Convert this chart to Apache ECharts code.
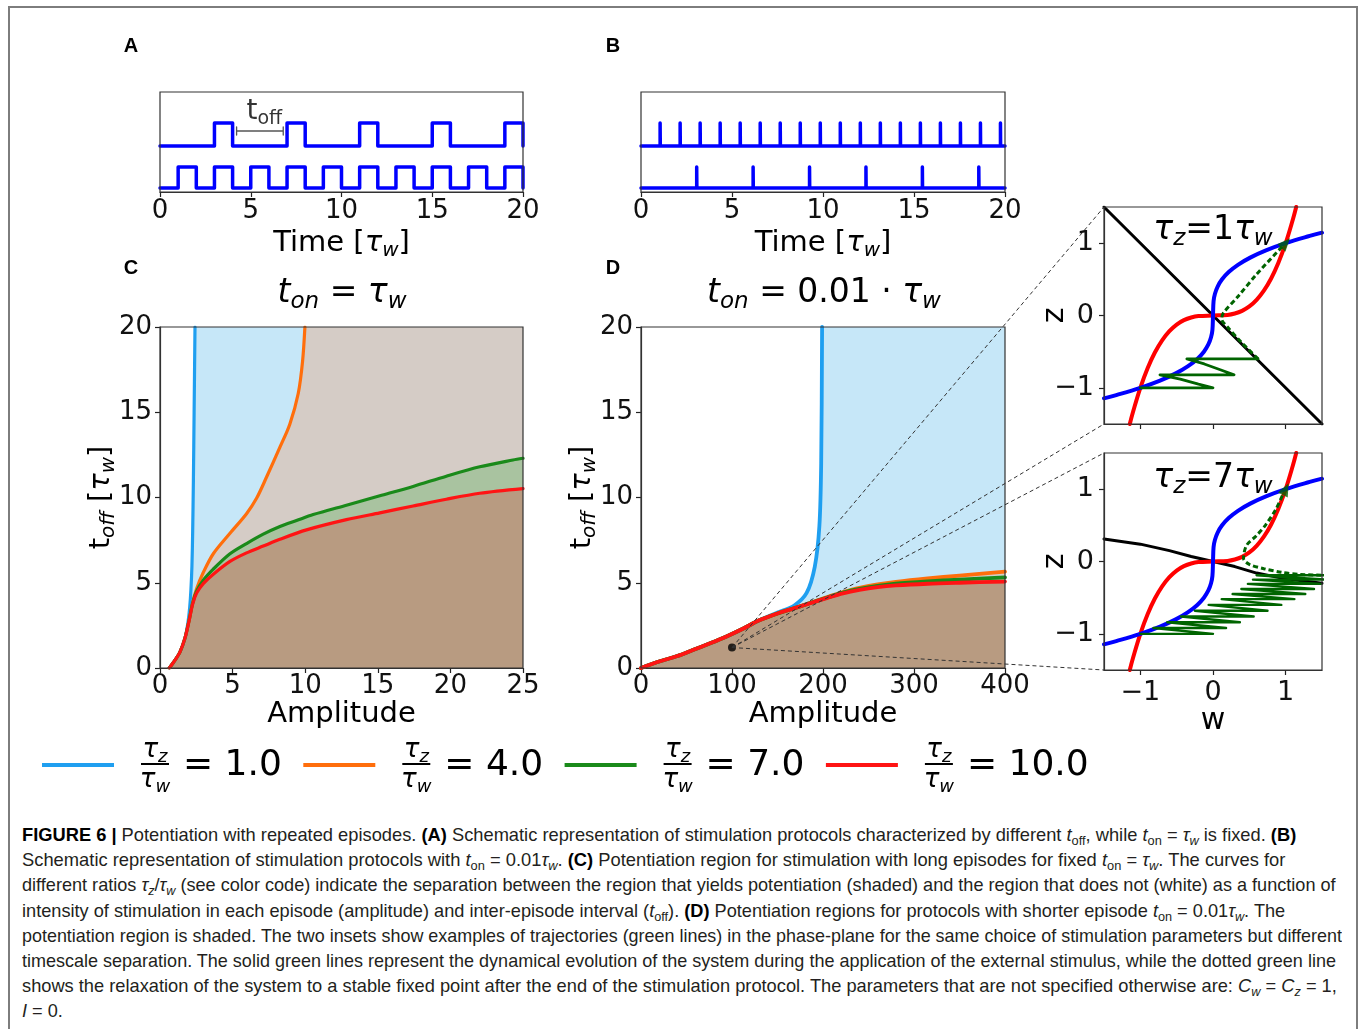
<!DOCTYPE html>
<html>
<head>
<meta charset="utf-8">
<script src="https://cdn.jsdelivr.net/npm/echarts@6/dist/echarts.min.js"></script>
<style>
  html, body { margin: 0; padding: 0; background: #fff; }
  body { width: 1360px; height: 1029px; position: relative; overflow: hidden; }
  #frame { position: absolute; left: 8px; top: 6px; width: 1346px; height: 1100px; border: 2px solid #7d7d7d; border-bottom: none; }
  #main { position: absolute; left: 0; top: 0; width: 1360px; height: 815px; }
  #caption { position: absolute; left: 22px; top: 822px; font-family: 'Liberation Sans Narrow', 'Liberation Sans', Arial, sans-serif; font-size: 18.5px; color: #231f20; }
  #caption .ln { height: 25.2px; line-height: 25.2px; white-space: nowrap; }
  #caption .ln span { display: inline-block; transform-origin: 0 50%; }
  #caption sub { font-size: 0.7em; vertical-align: -0.3em; line-height: 0; }
  #caption b { color: #000; }
</style>
</head>
<body>
<div id="frame"></div>
<div id="main"></div>
<div id="caption">
  <div class="ln"><span><b>FIGURE 6 |</b> Potentiation with repeated episodes. <b>(A)</b> Schematic representation of stimulation protocols characterized by different <i>t</i><sub>off</sub>, while <i>t</i><sub>on</sub> = <i>τ<sub>w</sub></i> is fixed. <b>(B)</b></span></div>
  <div class="ln"><span>Schematic representation of stimulation protocols with <i>t</i><sub>on</sub> = 0.01<i>τ<sub>w</sub></i>. <b>(C)</b> Potentiation region for stimulation with long episodes for fixed <i>t</i><sub>on</sub> = <i>τ<sub>w</sub></i>. The curves for</span></div>
  <div class="ln"><span>different ratios <i>τ<sub>z</sub></i>/<i>τ<sub>w</sub></i> (see color code) indicate the separation between the region that yields potentiation (shaded) and the region that does not (white) as a function of</span></div>
  <div class="ln"><span>intensity of stimulation in each episode (amplitude) and inter-episode interval (<i>t</i><sub>off</sub>). <b>(D)</b> Potentiation regions for protocols with shorter episode <i>t</i><sub>on</sub> = 0.01<i>τ<sub>w</sub></i>. The</span></div>
  <div class="ln"><span>potentiation region is shaded. The two insets show examples of trajectories (green lines) in the phase-plane for the same choice of stimulation parameters but different</span></div>
  <div class="ln"><span>timescale separation. The solid green lines represent the dynamical evolution of the system during the application of the external stimulus, while the dotted green line</span></div>
  <div class="ln"><span>shows the relaxation of the system to a stable fixed point after the end of the stimulation protocol. The parameters that are not specified otherwise are: <i>C<sub>w</sub></i> = <i>C<sub>z</sub></i> = 1,</span></div>
  <div class="ln"><span><i>I</i> = 0.</span></div>
</div>

<script>
// ---- panel A / B : stimulation protocols ----
const pulsesATop = [3, 7, 11, 15, 19];
const pulsesABottom = [1, 3, 5, 7, 9, 11, 13, 15, 17, 19];
const tOnA = 1;
const pulsesBTop = [1.05, 2.15, 3.25, 4.35, 5.45, 6.55, 7.65, 8.75, 9.85, 10.95, 12.05, 13.15, 14.25, 15.35, 16.45, 17.55, 18.65, 19.75];
const pulsesBBottom = [3.06, 6.16, 9.26, 12.36, 15.46, 18.56];
const tOnB = 0.01;
const levelTop = [0.46, 0.69];
const levelBottom = [0.04, 0.25];
const toffBracket = [4.22, 6.79, 0.61];
const toffLabelAt = [5.75, 0.8];

// ---- panel C : t_on = tau_w ----
const cBlue = [[0.64, 0], [1.0, 0.42], [1.38, 0.95], [1.72, 1.75], [1.93, 2.7], [2.05, 3.6], [2.13, 4.6], [2.2, 6.0], [2.25, 8.0], [2.3, 11], [2.35, 15], [2.41, 20]];
const cOrange = [[0.64, 0], [1.0, 0.42], [1.38, 0.95], [1.72, 1.75], [2.0, 2.8], [2.25, 3.85], [2.52, 4.65], [2.98, 5.6], [3.67, 6.7], [4.82, 7.9], [5.96, 9.05], [6.65, 9.95], [7.34, 11.2], [8.26, 12.95], [8.94, 14.3], [9.52, 16.1], [9.82, 18.0], [9.98, 20]];
const cGreen = [[0.64, 0], [1.0, 0.42], [1.38, 0.95], [1.72, 1.75], [2.0, 2.78], [2.25, 3.8], [2.52, 4.5], [2.98, 5.15], [3.67, 5.8], [4.82, 6.7], [5.96, 7.3], [7.11, 7.85], [8.26, 8.3], [9.4, 8.65], [10.55, 9.0], [12.84, 9.55], [15.14, 10.1], [17.43, 10.65], [19.72, 11.25], [22.02, 11.8], [24.31, 12.2], [25, 12.3]];
const cRed = [[0.64, 0], [1.0, 0.42], [1.38, 0.95], [1.72, 1.75], [2.0, 2.75], [2.25, 3.75], [2.52, 4.4], [2.98, 4.95], [3.67, 5.5], [4.82, 6.25], [5.96, 6.75], [7.11, 7.15], [8.26, 7.55], [10.09, 8.1], [12.84, 8.7], [15.14, 9.1], [17.43, 9.5], [19.72, 9.9], [22.02, 10.25], [25, 10.52]];

// ---- panel D : t_on = 0.01 tau_w ----
const dBlue = [[0, 0], [20, 0.38], [40, 0.7], [57, 1.05], [76, 1.45], [94, 1.85], [112, 2.3], [130, 2.8], [150, 3.25], [168, 3.65], [182, 4.4], [191, 5.95], [196, 8.3], [198, 12], [199, 20]];
const dOrange = [[0, 0], [20, 0.38], [40, 0.7], [57, 1.05], [76, 1.45], [94, 1.85], [112, 2.3], [130, 2.8], [150, 3.2], [168, 3.5], [186, 3.82], [204, 4.15], [222, 4.45], [240, 4.7], [260, 4.9], [280, 5.05], [315, 5.25], [350, 5.42], [400, 5.65]];
const dGreen = [[0, 0], [20, 0.38], [40, 0.7], [57, 1.05], [76, 1.45], [94, 1.85], [112, 2.3], [130, 2.8], [150, 3.2], [168, 3.5], [186, 3.81], [204, 4.12], [222, 4.42], [240, 4.64], [260, 4.82], [280, 4.95], [315, 5.08], [350, 5.18], [400, 5.32]];
const dRed = [[0, 0], [20, 0.38], [40, 0.7], [57, 1.05], [76, 1.45], [94, 1.85], [112, 2.3], [130, 2.8], [150, 3.2], [168, 3.5], [186, 3.8], [204, 4.1], [222, 4.38], [240, 4.58], [260, 4.74], [280, 4.84], [315, 4.94], [350, 5.0], [400, 5.07]];
const dDot = [100, 1.2];

// ---- insets : phase plane (w, z) ----
const zNullcline = [[-1.145, -1.5], [-1.1, -1.331], [-1.0, -1.0], [-0.9, -0.729], [-0.8, -0.512], [-0.7, -0.343], [-0.6, -0.216], [-0.5, -0.125], [-0.4, -0.064], [-0.3, -0.027], [-0.2, -0.008], [0, 0], [0.2, 0.008], [0.3, 0.027], [0.4, 0.064], [0.5, 0.125], [0.6, 0.216], [0.7, 0.343], [0.8, 0.512], [0.9, 0.729], [1.0, 1.0], [1.1, 1.331], [1.145, 1.5]];
const wNullcline = [[-1.5, -1.145], [-1.331, -1.1], [-1.0, -1.0], [-0.729, -0.9], [-0.512, -0.8], [-0.343, -0.7], [-0.216, -0.6], [-0.125, -0.5], [-0.064, -0.4], [-0.027, -0.3], [-0.008, -0.2], [0, 0], [0.008, 0.2], [0.027, 0.3], [0.064, 0.4], [0.125, 0.5], [0.216, 0.6], [0.343, 0.7], [0.512, 0.8], [0.729, 0.9], [1.0, 1.0], [1.331, 1.1], [1.5, 1.145]];
const black1 = [[-1.5, 1.5], [1.5, -1.5]];
const black7 = [[-1.5, 0.31], [-1.0, 0.24], [-0.6, 0.15], [-0.3, 0.07], [0, 0], [0.3, -0.07], [0.6, -0.16], [1.0, -0.24], [1.5, -0.3]];
const traj1 = [[-1.0, -1.0], [0.0, -1.0], [-0.2, -0.95], [-0.45, -0.88], [-0.73, -0.82], [0.29, -0.82], [0.1, -0.75], [-0.12, -0.67], [-0.36, -0.6], [0.62, -0.6]];
const relax1 = [[0.62, -0.6], [0.4, -0.38], [0.2, -0.16], [0.12, -0.05], [0.14, 0.03], [0.35, 0.27], [0.6, 0.57], [0.95, 0.95]];
const traj7 = [[-1.0, -1.0], [0.0, -1.0], [-0.82, -0.92], [0.18, -0.92], [-0.63, -0.84], [0.37, -0.84], [-0.44, -0.76], [0.56, -0.76], [-0.25, -0.68], [0.75, -0.68], [-0.06, -0.6], [0.94, -0.6], [0.12, -0.52], [1.12, -0.52], [0.27, -0.45], [1.27, -0.45], [0.39, -0.38], [1.39, -0.38], [0.48, -0.31], [1.48, -0.31], [0.55, -0.25], [1.55, -0.25], [0.6, -0.19], [1.6, -0.19]];
const relax7 = [[1.6, -0.19], [1.2, -0.18], [0.95, -0.15], [0.7, -0.1], [0.5, -0.04], [0.42, 0.04], [0.46, 0.22], [0.6, 0.36], [0.72, 0.5], [0.87, 0.73], [0.97, 0.95]];
const fixedPoint = [1, 1];

// ---- legend ----
const ratioLabels = ['1.0', '4.0', '7.0', '10.0'];
const ratioColors = ['#1f9ff0', '#ff6e0c', '#1a8a1a', '#ff1414'];
const fillColors = ['#c6e7f8', '#d5ccc6', '#a9c3a0', '#b89b81'];

const FONT = 'DejaVu Sans';

const mathRich = (size) => ({
  n: { fontFamily: FONT, fontSize: size, lineHeight: Math.round(size * 1.25), color: '#000' },
  i: { fontFamily: FONT, fontSize: size, fontStyle: 'italic', lineHeight: Math.round(size * 1.25), color: '#000' },
  s: { fontFamily: FONT, fontSize: Math.round(size * 0.7), fontStyle: 'italic', lineHeight: Math.round(size * 0.8), verticalAlign: 'bottom', color: '#000' },
  u: { fontFamily: FONT, fontSize: Math.round(size * 0.7), lineHeight: Math.round(size * 0.8), verticalAlign: 'bottom', color: '#000' }
});

const wave = (starts, on, level) => {
  const pts = [[0, level[0]]];
  starts.forEach((s) => {
    const e = Math.min(s + on, 20);
    pts.push([s, level[0]], [s, level[1]], [e, level[1]], [e, level[0]]);
  });
  pts.push([20, level[0]]);
  return pts;
};

const minus = (v) => (v < 0 ? '\u2212' + Math.abs(v) : String(v));

const grids = [
  { left: 160, top: 92, width: 363, height: 100 },
  { left: 641, top: 92, width: 364, height: 100 },
  { left: 160, top: 327, width: 363, height: 341 },
  { left: 641, top: 327, width: 364, height: 341 },
  { left: 1104, top: 207, width: 218, height: 217 },
  { left: 1104, top: 453, width: 218, height: 217 }
].map((g) => Object.assign(g, { show: true, borderColor: '#333', borderWidth: 1.2, backgroundColor: 'transparent', z: 5 }));

const tick = { show: true, inside: false, length: 5, lineStyle: { color: '#222', width: 1.2 } };
const label = (size, margin) => ({ fontFamily: FONT, fontSize: size, color: '#111', margin: margin });
const axisLine = { show: true, onZero: false, lineStyle: { color: '#333', width: 1.2 } };

const timeAxis = (g) => ({
  type: 'value', gridIndex: g, min: 0, max: 20, interval: 5,
  axisLine, axisTick: tick, axisLabel: label(26, 6), splitLine: { show: false },
  name: '{n|Time [}{i|τ}{s|w}{n|]}', nameLocation: 'middle', nameGap: 33, nameMoveOverlap: false,
  nameTextStyle: { fontFamily: FONT, fontSize: 29, rich: mathRich(29) }
});
const hiddenY = (g) => ({ type: 'value', gridIndex: g, min: 0, max: 1, show: false });
const toffAxis = (g) => ({
  type: 'value', gridIndex: g, min: 0, max: 20, interval: 5,
  axisLine, axisTick: tick, axisLabel: label(26, 8), splitLine: { show: false },
  name: '{n|t}{s|off}{n| [}{i|τ}{s|w}{n|]}', nameLocation: 'middle', nameGap: 41, nameRotate: 90, nameMoveOverlap: false,
  nameTextStyle: { fontFamily: FONT, fontSize: 29, rich: mathRich(29) }
});
const ampAxis = (g, max, step) => ({
  type: 'value', gridIndex: g, min: 0, max: max, interval: step,
  axisLine, axisTick: tick, axisLabel: label(26, 5), splitLine: { show: false },
  name: 'Amplitude', nameLocation: 'middle', nameGap: 32, nameMoveOverlap: false,
  nameTextStyle: { fontFamily: FONT, fontSize: 29, color: '#000' }
});
const phaseX = (g, showLabels) => ({
  type: 'value', gridIndex: g, min: -1.5, max: 1.5,
  axisLine, axisTick: Object.assign({ customValues: [-1, 0, 1] }, tick),
  axisLabel: Object.assign({ show: showLabels, customValues: [-1, 0, 1], formatter: minus }, label(27, 9)),
  splitLine: { show: false },
  name: showLabels ? 'w' : '', nameLocation: 'middle', nameGap: 36, nameMoveOverlap: false,
  nameTextStyle: { fontFamily: FONT, fontSize: 30, color: '#000' }
});
const phaseY = (g) => ({
  type: 'value', gridIndex: g, min: -1.5, max: 1.5,
  axisLine, axisTick: Object.assign({ customValues: [-1, 0, 1] }, tick),
  axisLabel: Object.assign({ customValues: [-1, 0, 1], formatter: minus }, label(27, 10)),
  splitLine: { show: false },
  name: 'z', nameLocation: 'middle', nameGap: 34, nameRotate: 90, nameMoveOverlap: false,
  nameTextStyle: { fontFamily: FONT, fontSize: 30, color: '#000' }
});

const line = (g, data, color, width, extra) => Object.assign({
  type: 'line', xAxisIndex: g, yAxisIndex: g, data: data,
  symbol: 'none', showSymbol: false, silent: true, z: 3,
  lineStyle: { color: color, width: width, cap: 'round', join: 'round' }
}, extra || {});

const fill = (g, data, color) => ({
  type: 'line', xAxisIndex: g, yAxisIndex: g, data: data,
  symbol: 'none', showSymbol: false, silent: true, z: 1, smooth: 0.3,
  lineStyle: { width: 0, opacity: 0 }, areaStyle: { color: color, opacity: 1 }
});

const cCurves = [cBlue, cOrange, cGreen, cRed];
const dCurves = [dBlue, dOrange, dGreen, dRed];
const series = [];

// A
series.push(line(0, wave(pulsesATop, tOnA, levelTop), '#0000ff', 3.5));
series.push(line(0, wave(pulsesABottom, tOnA, levelBottom), '#0000ff', 3.5));
const [bx1, bx2, by] = toffBracket;
series.push(line(0, [[bx1, by - 0.04], [bx1, by + 0.04], [bx1, by], [bx2, by], [bx2, by + 0.04], [bx2, by - 0.04]], '#555', 1.3));
series.push({
  type: 'scatter', xAxisIndex: 0, yAxisIndex: 0, data: [toffLabelAt], symbolSize: 2, silent: true, z: 6,
  itemStyle: { color: 'rgba(0,0,0,0)' },
  label: { show: true, position: 'inside', color: '#000', formatter: '{t|t}{o|off}',
    rich: { t: { fontFamily: FONT, fontSize: 28, lineHeight: 34, color: '#000' },
            o: { fontFamily: FONT, fontSize: 19, lineHeight: 19, verticalAlign: 'bottom', color: '#000' } } }
});
// B
series.push(line(1, wave(pulsesBTop, tOnB, levelTop), '#0000ff', 3.5));
series.push(line(1, wave(pulsesBBottom, tOnB, levelBottom), '#0000ff', 3.5));

// C and D fills then curves
[[2, cCurves, 25], [3, dCurves, 400]].forEach(([g, curves, xmax]) => {
  curves.forEach((c, k) => {
    const last = c[c.length - 1];
    const data = last[1] >= 20 ? c.concat([[xmax, 20]]) : c;
    series.push(fill(g, data, fillColors[k]));
  });
  curves.forEach((c, k) => {
    series.push(line(g, c, ratioColors[k], g === 2 ? 3.2 : 3.8, { smooth: 0.3 }));
  });
});
series.push({ type: 'scatter', xAxisIndex: 3, yAxisIndex: 3, data: [dDot], symbolSize: 8, itemStyle: { color: '#000' }, z: 6, silent: true });

// insets
[[4, black1, traj1, relax1, -42], [5, black7, traj7, relax7, -26]].forEach(([g, blk, traj, relax, rot]) => {
  series.push(line(g, blk, '#000', 3));
  series.push(line(g, zNullcline, '#ff0000', 4, { smooth: 0.4 }));
  series.push(line(g, wNullcline, '#0000ff', 4, { smooth: 0.4 }));
  series.push(line(g, traj, '#006400', g === 4 ? 2.8 : 2.4));
  series.push(line(g, relax, '#006400', 3, { smooth: 0.3, lineStyle: { color: '#006400', width: 3, type: [5, 3] } }));
  series.push({ type: 'scatter', xAxisIndex: g, yAxisIndex: g, data: [fixedPoint], symbol: 'triangle', symbolSize: [11, 13], symbolRotate: rot, itemStyle: { color: '#006400' }, z: 4, silent: true });
});

const chart = echarts.init(document.getElementById('main'));
chart.setOption({
  animation: false,
  textStyle: { fontFamily: FONT },
  grid: grids,
  xAxis: [timeAxis(0), timeAxis(1), ampAxis(2, 25, 5), ampAxis(3, 400, 100), phaseX(4, false), phaseX(5, true)],
  yAxis: [hiddenY(0), hiddenY(1), toffAxis(2), toffAxis(3), phaseY(4), phaseY(5)],
  series: series
});

// overlay texts, legend and zoom connectors
const elements = [];
[['A', 131, 46], ['B', 613, 46], ['C', 131, 268], ['D', 613, 268]].forEach(([t, x, y]) => {
  elements.push({ type: 'text', style: { text: t, x, y, fontFamily: 'Liberation Sans, Arial', fontWeight: 'bold', fontSize: 20, fill: '#000', align: 'center', verticalAlign: 'middle' } });
});
[['{i|t}{s|on}{n| = }{i|τ}{s|w}', 342, 293],
 ['{i|t}{s|on}{n| = 0.01 · }{i|τ}{s|w}', 824, 293],
 ['{i|τ}{s|z}{n|=1}{i|τ}{s|w}', 1213, 230],
 ['{i|τ}{s|z}{n|=7}{i|τ}{s|w}', 1213, 478]].forEach(([t, x, y]) => {
  elements.push({ type: 'text', z: 20, style: { text: t, x, y, rich: mathRich(33), fontSize: 33, fontFamily: FONT, align: 'center', verticalAlign: 'middle' } });
});
ratioLabels.forEach((r, k) => {
  const x0 = 42 + k * 261.3;
  elements.push({ type: 'line', shape: { x1: x0, y1: 765, x2: x0 + 72, y2: 765 }, style: { stroke: ratioColors[k], lineWidth: 4 } });
  elements.push({ type: 'text', style: { text: '{i|τ}{s|z}', rich: mathRich(26), x: x0 + 113, y: 750, align: 'center', verticalAlign: 'middle' } });
  elements.push({ type: 'line', shape: { x1: x0 + 99, y1: 764, x2: x0 + 127, y2: 764 }, style: { stroke: '#000', lineWidth: 2 } });
  elements.push({ type: 'text', style: { text: '{i|τ}{s|w}', rich: mathRich(26), x: x0 + 113, y: 780, align: 'center', verticalAlign: 'middle' } });
  elements.push({ type: 'text', style: { text: '= ' + r, x: x0 + 141, y: 766, fontFamily: FONT, fontSize: 36, fill: '#000', align: 'left', verticalAlign: 'middle' } });
});
const dotPx = chart.convertToPixel({ gridIndex: 3 }, dDot);
[[4, 1.5], [4, -1.5], [5, 1.5], [5, -1.5]].forEach(([g, zc]) => {
  const p = chart.convertToPixel({ gridIndex: g }, [-1.5, zc]);
  elements.push({ type: 'line', z: 30, shape: { x1: dotPx[0], y1: dotPx[1], x2: p[0], y2: p[1] }, style: { stroke: '#333', lineWidth: 1, lineDash: [4, 3] } });
});
chart.setOption({ graphic: { elements: elements } });

// caption lines fitted to the printed widths
const targets = [1274, 1263, 1314, 1263, 1320, 1314, 1315];
const spans = document.querySelectorAll('#caption .ln span');
let sum = 0;
targets.forEach((t, k) => {
  const s = t / spans[k].offsetWidth;
  spans[k].style.transform = 'scaleX(' + s + ')';
  sum += s;
});
spans[7].style.transform = 'scaleX(' + (sum / targets.length) + ')';
</script>
</body>
</html>
